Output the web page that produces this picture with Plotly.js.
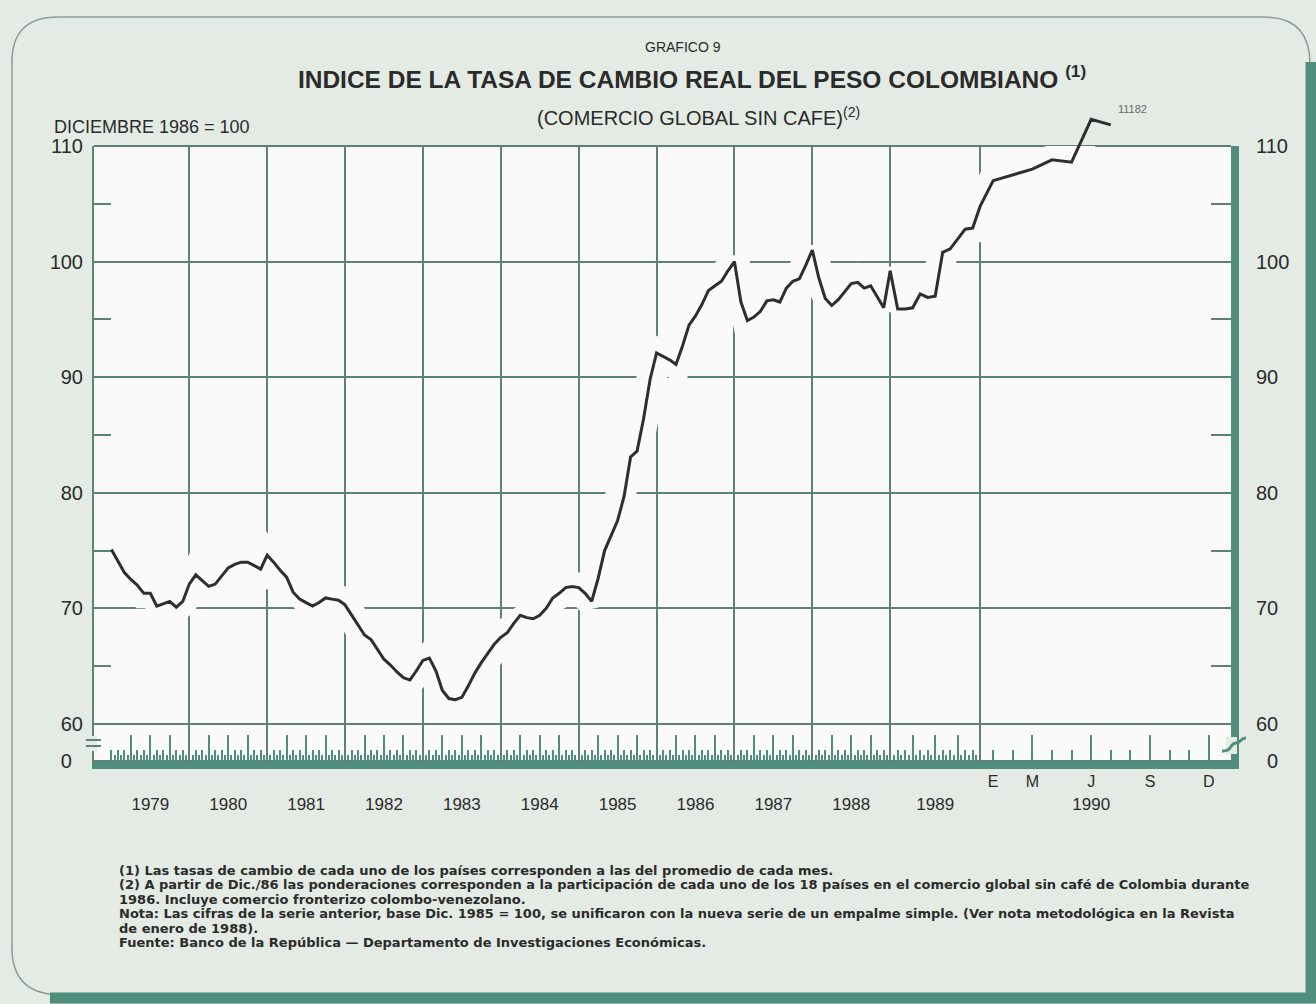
<!DOCTYPE html>
<html>
<head>
<meta charset="utf-8">
<script src="https://cdn.plot.ly/plotly-3.0.1.min.js"></script>
<style>
html,body{margin:0;padding:0;background:#e4eae4;}
#chart{width:1316px;height:1004px;}
</style>
</head>
<body>
<div id="chart"></div>
<script>
// ---------------- DATA (index, Dic 1986 = 100) ----------------
const dec1978 = [75.1];
const v1979 = [74.1, 73.1, 72.5, 72.0, 71.3, 71.3, 70.2, 70.4, 70.6, 70.1, 70.6, 72.1];
const v1980 = [72.9, 72.4, 71.9, 72.1, 72.8, 73.5, 73.8, 74.0, 74.0, 73.7, 73.4, 74.6];
const v1981 = [74.0, 73.3, 72.7, 71.4, 70.8, 70.5, 70.2, 70.5, 70.9, 70.8, 70.7, 70.3];
const v1982 = [69.4, 68.5, 67.7, 67.3, 66.4, 65.6, 65.1, 64.5, 64.0, 63.8, 64.6, 65.5];
const v1983 = [65.7, 64.6, 62.9, 62.2, 62.1, 62.3, 63.3, 64.4, 65.3, 66.1, 66.9, 67.5];
const v1984 = [67.9, 68.7, 69.4, 69.2, 69.1, 69.4, 70.0, 70.9, 71.3, 71.8, 71.9, 71.8];
const v1985 = [71.3, 70.6, 72.6, 75.0, 76.3, 77.6, 79.7, 83.1, 83.6, 86.4, 89.8, 92.1];
const v1986 = [91.8, 91.5, 91.1, 92.7, 94.5, 95.3, 96.3, 97.5, 97.9, 98.3, 99.2, 100.0];
const v1987 = [96.5, 94.9, 95.2, 95.7, 96.6, 96.7, 96.5, 97.7, 98.3, 98.5, 99.7, 101.0];
const v1988 = [98.6, 96.8, 96.2, 96.7, 97.4, 98.1, 98.2, 97.7, 97.9, 97.0, 96.0, 99.2];
const v1989 = [95.9, 95.9, 96.0, 97.2, 96.9, 97.0, 100.8, 101.1, 102.0, 102.8, 102.9, 104.8];
const v1990 = [107.0, 107.5, 108.0, 108.8, 108.6, 112.3, 111.82];

const yearLabels = ['1979','1980','1981','1982','1983','1984','1985','1986','1987','1988','1989','1990'];
const monthLetters1990 = ['E','M','J','S','D'];
const monthLetterMonths = [1, 3, 6, 9, 12];
const yTickVals = [60, 70, 80, 90, 100, 110];
const yMinorVals = [65, 75, 85, 95, 105];

// ---------------- custom time scale of the original chart ----------------
// 1979-1988: one unit per month; 1989 drawn a bit wider; 1990 drawn ~3x wider.
const monthWidth = {1989: 7.5 / 6.49, 1990: 3.02};
const jan1990Gap = 2.0;
function mw(y) { return monthWidth[y] || 1; }
function pos(year, month) {            // month = 1..12 ; pos(1979,0) = Dec 1978
  let u = 0;
  for (let y = 1979; y < year; y++) u += 12 * mw(y);
  if (year === 1990) return u + jan1990Gap + (month - 1) * mw(1990);
  return u + month * mw(year);
}

const series = {1979: v1979, 1980: v1980, 1981: v1981, 1982: v1982, 1983: v1983, 1984: v1984,
                1985: v1985, 1986: v1986, 1987: v1987, 1988: v1988, 1989: v1989, 1990: v1990};
const xs = [pos(1979, 0)], ys = [dec1978[0]];
for (let y = 1979; y <= 1990; y++) {
  series[y].forEach((v, i) => { xs.push(pos(y, i + 1)); ys.push(v); });
}

const gridTicks = [], quarterTicks = [], monthTicks = [pos(1979, 0)], halfTicks = [];
for (let y = 1979; y <= 1990; y++) {
  for (let m = 1; m <= 12; m++) {
    const p = pos(y, m);
    if (y < 1990) halfTicks.push((p + pos(y, m - 1)) / 2);
    if (m === 12 && y < 1990) gridTicks.push(p);
    else if (m % 3 === 0) quarterTicks.push(p);
    else monthTicks.push(p);
  }
}
const yearLabelPos = yearLabels.map(y => pos(+y, 6));
const monthLetterPos = monthLetterMonths.map(m => pos(1990, m));

// ---------------- styling ----------------
const W = 1316, H = 1004;
const M = {l: 94, r: 85, t: 111, b: 242};
const plotW = W - M.l - M.r, plotH = H - M.t - M.b;
const PXU = 6.49, PYU = 11.56;                 // pixels per month / per index point
const xRange = [-2.68, -2.68 + plotW / PXU];
const yMin = 56.71;
const frameTop = 110;
const fTop = (frameTop - yMin) * PYU / plotH;  // domain fraction of the framed area
const yRangeFrame = [yMin, frameTop];
const yRangeFull = [yMin, yMin + plotH / PYU];
const zeroTick = 56.8;

const paperBg = '#e4eae4', plotBg = '#fafbf8';
const gridC = '#5d8177', teal = '#4f8e7d', lineC = '#2e2e2e', textC = '#2b2b2b';
const FONT = 'Liberation Sans, Arial, Helvetica, sans-serif';

const px = x => (x - M.l) / plotW;
const py = y => 1 - (y - M.t) / plotH;
function pathPx(cmds) {
  return cmds.map(c => c[0] + ' ' + c.slice(1).map((v, i) => (i % 2 === 0 ? px(v) : py(v)).toFixed(5)).join(',')).join(' ');
}

const traces = [
  // white knock-out halo (clipped to the framed area)
  {x: xs, y: ys, xaxis: 'x', yaxis: 'y', mode: 'lines', line: {color: plotBg, width: 30},
   hoverinfo: 'skip', showlegend: false},
  // the series line (may rise above the frame)
  {x: xs, y: ys, xaxis: 'x5', yaxis: 'y3', mode: 'lines', line: {color: lineC, width: 3},
   hoverinfo: 'skip', showlegend: false},
  {x: [null], y: [null], xaxis: 'x2', yaxis: 'y', mode: 'lines', showlegend: false, hoverinfo: 'skip'},
  {x: [null], y: [null], xaxis: 'x3', yaxis: 'y', mode: 'lines', showlegend: false, hoverinfo: 'skip'},
  {x: [null], y: [null], xaxis: 'x4', yaxis: 'y', mode: 'lines', showlegend: false, hoverinfo: 'skip'},
  {x: [null], y: [null], xaxis: 'x', yaxis: 'y2', mode: 'lines', showlegend: false, hoverinfo: 'skip'}
];

const baseX = {range: xRange, autorange: false, zeroline: false, fixedrange: true};
const last = ys.length - 1;

const footLines = [
  '(1) Las tasas de cambio de cada uno de los países corresponden a las del promedio de cada mes.',
  '(2) A partir de Dic./86 las ponderaciones corresponden a la participación de cada uno de los 18 países en el comercio global sin café de Colombia durante',
  '1986. Incluye comercio fronterizo colombo-venezolano.',
  'Nota: Las cifras de la serie anterior, base Dic. 1985 = 100, se unificaron con la nueva serie de un empalme simple. (Ver nota metodológica en la Revista',
  'de enero de 1988).',
  'Fuente: Banco de la República — Departamento de Investigaciones Económicas.'
];

const annotations = [
  {text: 'GRAFICO 9', xref: 'paper', yref: 'paper', x: px(683), y: py(47), xanchor: 'center', yanchor: 'middle',
   showarrow: false, font: {family: FONT, size: 14, color: textC}},
  {text: '(COMERCIO GLOBAL SIN CAFE)<sup>(2)</sup>', xref: 'paper', yref: 'paper', x: px(698), y: py(117),
   xanchor: 'center', yanchor: 'middle', showarrow: false, font: {family: FONT, size: 20, color: textC}},
  {text: 'DICIEMBRE 1986 = 100', xref: 'paper', yref: 'paper', x: px(52), y: py(127),
   xanchor: 'left', yanchor: 'middle', showarrow: false, font: {family: FONT, size: 18, color: textC}},
  {text: String(ys[last]).replace('.', ''), xref: 'x5', yref: 'y3', x: xs[last], y: ys[last],
   xshift: 22, yshift: 16, xanchor: 'center', yanchor: 'middle', showarrow: false,
   font: {family: FONT, size: 11, color: '#6a6a6a'}}
];
footLines.forEach((t, i) => annotations.push({
  text: t, xref: 'paper', yref: 'paper', x: px(117), y: py(870 + i * 14.5), xanchor: 'left', yanchor: 'middle',
  showarrow: false, font: {family: 'DejaVu Sans, Liberation Sans, sans-serif', size: 13, color: textC, weight: 'bold'}
}));

const shapes = [
  // white interior of the frame
  {type: 'rect', xref: 'paper', yref: 'paper', layer: 'below', x0: 0, x1: 1, y0: 0, y1: fTop,
   fillcolor: plotBg, line: {width: 0}},
  // top frame line at 110
  {type: 'line', xref: 'paper', yref: 'paper', layer: 'below', x0: 0, x1: 1, y0: fTop, y1: fTop,
   line: {color: gridC, width: 2}},
  // left axis break
  {type: 'rect', xref: 'paper', yref: 'paper', x0: px(91), x1: px(97), y0: py(751), y1: py(736),
   fillcolor: paperBg, line: {width: 0}},
  {type: 'line', xref: 'paper', yref: 'paper', x0: px(86), x1: px(101), y0: py(740), y1: py(740),
   line: {color: gridC, width: 2}},
  {type: 'line', xref: 'paper', yref: 'paper', x0: px(86), x1: px(101), y0: py(746), y1: py(746),
   line: {color: gridC, width: 2}},
  // right axis break
  {type: 'rect', xref: 'paper', yref: 'paper', x0: px(1226), x1: px(1237), y0: py(754), y1: py(737),
   fillcolor: paperBg, line: {width: 0}},
  {type: 'path', xref: 'paper', yref: 'paper',
   path: pathPx([['M', 1222, 751], ['C', 1232, 752, 1230, 743, 1236, 743], ['C', 1241, 743, 1240, 738, 1246, 738]]),
   line: {color: teal, width: 3}},
  // page border
  {type: 'path', xref: 'paper', yref: 'paper', layer: 'below',
   path: pathPx([['M', 62, 995], ['Q', 12, 995, 12, 948], ['L', 12, 62], ['Q', 12, 17, 58, 17],
                 ['L', 1264, 17], ['Q', 1310, 17, 1310, 64]]),
   line: {color: '#8d9c96', width: 1.5}},
  {type: 'path', xref: 'paper', yref: 'paper', layer: 'below',
   path: pathPx([['M', 1311, 62], ['L', 1311, 998], ['L', 50, 998]]),
   line: {color: teal, width: 11}}
];

const layout = {
  width: W, height: H,
  margin: M,
  paper_bgcolor: paperBg, plot_bgcolor: 'rgba(0,0,0,0)',
  showlegend: false,
  title: {text: 'INDICE DE LA TASA DE CAMBIO REAL DEL PESO COLOMBIANO <sup>(1)</sup>',
          xref: 'container', yref: 'container', x: 692 / W, y: 1 - 79 / H, xanchor: 'center', yanchor: 'middle',
          font: {family: FONT, size: 24.5, color: textC, weight: 'bold'}},
  xaxis: Object.assign({}, baseX, {
    anchor: 'y',
    tickmode: 'array', tickvals: gridTicks, ticks: '', showticklabels: false,
    showgrid: true, gridcolor: gridC, gridwidth: 2,
    showline: true, linecolor: teal, linewidth: 7,
    minor: {tickmode: 'array', tickvals: monthTicks, ticks: 'inside', ticklen: 12, tickwidth: 2,
            tickcolor: teal, showgrid: false}
  }),
  xaxis2: Object.assign({}, baseX, {
    overlaying: 'x', anchor: 'y', side: 'bottom',
    tickmode: 'array', tickvals: quarterTicks, ticks: 'inside', ticklen: 27, tickwidth: 2, tickcolor: teal,
    showticklabels: false, showgrid: false, showline: false,
    minor: {tickmode: 'array', tickvals: halfTicks, ticks: 'inside', ticklen: 7, tickwidth: 2,
            tickcolor: teal, showgrid: false}
  }),
  xaxis3: Object.assign({}, baseX, {
    overlaying: 'x', anchor: 'y', side: 'bottom',
    tickmode: 'array', tickvals: yearLabelPos, ticktext: yearLabels, ticks: '',
    showgrid: false, showline: false, ticklabelstandoff: 30,
    tickfont: {family: FONT, size: 17, color: textC}
  }),
  xaxis4: Object.assign({}, baseX, {
    overlaying: 'x', anchor: 'y', side: 'bottom',
    tickmode: 'array', tickvals: monthLetterPos, ticktext: monthLetters1990, ticks: '',
    showgrid: false, showline: false, ticklabelstandoff: 8,
    tickfont: {family: FONT, size: 16, color: textC}
  }),
  xaxis5: Object.assign({}, baseX, {anchor: 'y3', domain: [0, 1], visible: false, showgrid: false}),
  yaxis: {
    domain: [0, fTop], anchor: 'x',
    range: yRangeFrame, autorange: false, fixedrange: true, zeroline: false,
    tickmode: 'array', tickvals: [zeroTick].concat(yTickVals),
    ticktext: ['0\u2007'].concat(yTickVals.map(String)),
    ticks: '', showgrid: true, gridcolor: gridC, gridwidth: 2,
    showline: true, linecolor: gridC, linewidth: 2,
    ticklabelstandoff: 5,
    tickfont: {family: FONT, size: 20, color: textC},
    minor: {tickmode: 'array', tickvals: yMinorVals, ticks: 'inside', ticklen: 17, tickwidth: 2,
            tickcolor: gridC, showgrid: false}
  },
  yaxis2: {
    overlaying: 'y', side: 'right', anchor: 'x',
    range: yRangeFrame, autorange: false, fixedrange: true, zeroline: false,
    tickmode: 'array', tickvals: [zeroTick].concat(yTickVals),
    ticktext: ['\u20070'].concat(yTickVals.map(String)),
    ticks: '', showgrid: false,
    showline: true, linecolor: teal, linewidth: 8,
    ticklabelstandoff: 13,
    tickfont: {family: FONT, size: 20, color: textC},
    minor: {tickmode: 'array', tickvals: yMinorVals, ticks: 'inside', ticklen: 20, tickwidth: 2,
            tickcolor: gridC, showgrid: false}
  },
  yaxis3: {domain: [0, 1], anchor: 'x5', range: yRangeFull, autorange: false, fixedrange: true,
           visible: false, showgrid: false, zeroline: false},
  annotations: annotations,
  shapes: shapes
};

Plotly.newPlot('chart', traces, layout, {displayModeBar: false, staticPlot: true});
</script>
</body>
</html>
